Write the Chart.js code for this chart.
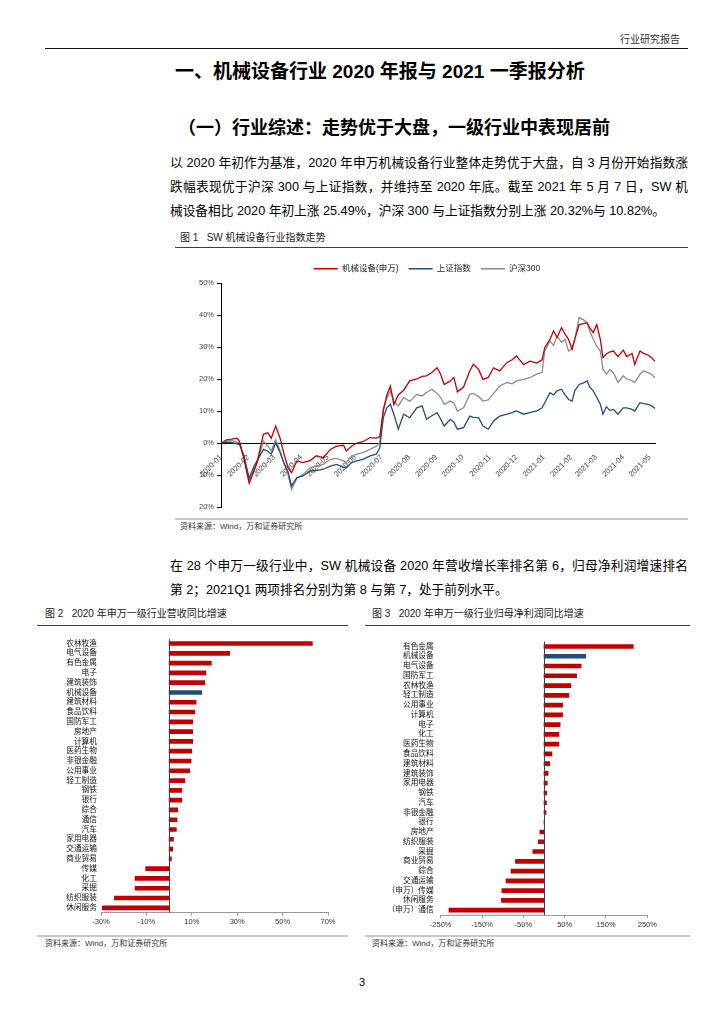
<!DOCTYPE html>
<html lang="zh-CN">
<head>
<meta charset="utf-8">
<title>机械设备行业 2020 年报与 2021 一季报分析</title>
<script src="https://cdn.jsdelivr.net/npm/chart.js@4.4.1/dist/chart.umd.min.js"></script>
<style>
  html, body { margin: 0; padding: 0; background: #fff; }
  body { width: 724px; height: 1024px; position: relative; overflow: hidden;
         font-family: "Liberation Sans", "Noto Sans CJK SC", sans-serif; color: #000; }
  .abs { position: absolute; white-space: nowrap; line-height: 1; }
  .jl { position: absolute; line-height: 1; text-align: justify; text-align-last: justify; }
  .rule { position: absolute; height: 0; border-top: 1px solid #404040; }
  .rule.light { border-top: 2px solid #c8c8c8; }
  .cap { font-size: 10px; color: #222; }
  .src { font-size: 8px; color: #333; }
  canvas { position: absolute; }
</style>
</head>
<body>

<div class="abs" style="right:44px; top:35px; font-size:10px; color:#333;">行业研究报告</div>
<div class="rule" style="left:45px; top:48px; width:643px; border-top:1.5px solid #111;"></div>

<div class="abs" style="left:175px; top:62px; font-size:19px; font-weight:bold;">一、机械设备行业 2020 年报与 2021 一季报分析</div>
<div class="abs" style="left:178px; top:119px; font-size:18px; font-weight:bold;">（一）行业综述：走势优于大盘，一级行业中表现居前</div>

<div class="jl" style="left:170px; top:157px; width:518px; font-size:12.7px;">以 2020 年初作为基准，2020 年申万机械设备行业整体走势优于大盘，自 3 月份开始指数涨</div>
<div class="jl" style="left:170px; top:181px; width:518px; font-size:12.7px;">跌幅表现优于沪深 300 与上证指数，并维持至 2020 年底。截至 2021 年 5 月 7 日，SW 机</div>
<div class="abs" style="left:170px; top:205px; font-size:12.7px;">械设备相比 2020 年初上涨 25.49%，沪深 300 与上证指数分别上涨 20.32%与 10.82%。</div>

<div class="abs cap" style="left:180px; top:233px;">图 1&nbsp;&nbsp;&nbsp;SW 机械设备行业指数走势</div>
<div class="rule" style="left:175px; top:247px; width:513px;"></div>
<canvas id="indexChart" width="520" height="266" style="left:170px; top:250px;"></canvas>
<div class="rule light" style="left:175px; top:518px; width:513px;"></div>
<div class="abs src" style="left:180px; top:523px;">资料来源：Wind，万和证券研究所</div>

<div class="jl" style="left:170px; top:560px; width:518px; font-size:12.7px;">在 28 个申万一级行业中，SW 机械设备 2020 年营收增长率排名第 6，归母净利润增速排名</div>
<div class="abs" style="left:170px; top:584px; font-size:12.7px;">第 2；2021Q1 两项排名分别为第 8 与第 7，处于前列水平。</div>

<div class="abs cap" style="left:45px; top:609px;">图 2&nbsp;&nbsp;&nbsp;2020 年申万一级行业营收同比增速</div>
<div class="rule" style="left:37px; top:625px; width:311px;"></div>
<canvas id="revChart" width="311" height="300" style="left:37px; top:630px;"></canvas>
<div class="rule light" style="left:37px; top:935px; width:311px;"></div>
<div class="abs src" style="left:45px; top:940px;">资料来源：Wind，万和证券研究所</div>

<div class="abs cap" style="left:372px; top:609px;">图 3&nbsp;&nbsp;&nbsp;2020 年申万一级行业归母净利润同比增速</div>
<div class="rule" style="left:365px; top:625px; width:325px;"></div>
<canvas id="profitChart" width="325" height="300" style="left:365px; top:630px;"></canvas>
<div class="rule light" style="left:365px; top:935px; width:325px;"></div>
<div class="abs src" style="left:372px; top:940px;">资料来源：Wind，万和证券研究所</div>

<div class="abs" style="left:359px; top:977px; font-size:11px;">3</div>

<script>
// 图1：自 2020-01-01 起的自然日序号及对应涨跌幅(%)
const lineDays = [1, 6, 12, 18, 21, 26, 32, 37, 41, 48,
  53, 57, 62, 67, 71, 76, 80, 86, 93, 101,
  108, 116, 124, 131, 139, 142, 148, 154, 161, 169,
  176, 180, 184, 188, 192, 196, 201, 207, 214, 222,
  228, 233, 239, 245, 249, 253, 260, 264, 268, 275,
  282, 286, 292, 297, 303, 309, 316, 324, 330, 335,
  343, 350, 358, 364, 367, 373, 377, 381, 386, 390,
  394, 398, 401, 406, 411, 415, 418, 422, 426, 430,
  433, 437, 441, 445, 450, 456, 460, 466, 469, 475,
  479, 484, 488, 492];
const machinery = [0, 1.0, 1.2, 1.5, 0.5, -5, -12.6, -9, -6, 2.7,
  3.2, 1.5, 5.3, 1.5, -3, -7.7, -9.3, -5.6, -6.1, -5.5,
  -4, -4.6, -2, -1, -0.7, -2.5, -1, 0, 0.4, 1.7,
  1.5, 2, 10, 15, 17.8, 12, 15, 16.5, 19.4, 20,
  20.8, 21, 22, 23.5, 21.5, 18.3, 19.4, 20.5, 16, 17.5,
  22.5, 24.6, 23, 19.9, 20.5, 23.5, 22.5, 25.1, 26, 27.2,
  24.5, 25.6, 25, 26, 29.8, 32.4, 35, 33, 36, 34,
  32.4, 29.3, 32.4, 37, 37.3, 37.6, 36, 34.5, 37, 32.4,
  26.7, 27.8, 28.5, 28.75, 27, 29, 27, 28, 24.6, 28.75,
  28, 27.5, 26.7, 25.49];
const shIndex = [0, 0.3, 0.2, -0.3, -0.5, -4, -11, -7.5, -5.5, -2,
  -2.5, -3.5, 0, -3, -6, -9, -13.4, -10.8, -10.3, -8.75,
  -8.6, -8.2, -7.2, -6.7, -7.6, -7.8, -6.1, -5.6, -5.1, -4,
  -3.5, -1.5, 7.9, 11, 12.1, 9, 4.3, 9, 7.9, 11,
  11.6, 7.4, 8.5, 9.5, 7.5, 5.3, 7.4, 6.5, 4.3, 4.8,
  8.4, 8.0, 7.9, 5.3, 4.3, 6.9, 8.4, 9, 9.5, 10,
  9, 9.5, 10, 11, 12.6, 15.7, 15, 16.3, 16.8, 15,
  13.6, 13.1, 16.3, 18.3, 18.8, 19.4, 17.5, 16.3, 14.2, 12.1,
  9, 11.3, 10.2, 10.5, 9, 11, 11, 10.5, 10, 12.6,
  12.3, 12.1, 11.6, 10.82];
const hs300 = [0, 0.5, 0.8, 0.3, 0, -4.5, -11.9, -8.5, -6, 0.6,
  -1, -2.5, 1.1, -2.5, -6, -10, -14.5, -11, -9.8, -7.7,
  -7.2, -6.7, -5.1, -4.8, -5.6, -6, -4.2, -3.5, -3, -2,
  -1, 0, 11, 14, 16.3, 13, 11.6, 14.2, 13, 15.2,
  14.7, 15.8, 16.8, 15.5, 14.2, 12.1, 13.1, 12.5, 10, 11,
  15.2, 15.5, 14.5, 13.1, 13.5, 15.5, 17.8, 18.9, 18.5, 19.4,
  19.9, 20.4, 21.5, 22, 28.75, 31.9, 30.5, 33.4, 31.5, 32.4,
  28.75, 29.5, 32.4, 39.2, 38.5, 37.6, 35, 32.4, 30.3, 28.75,
  23, 21.5, 23, 21.8, 18.9, 21, 20, 19.5, 18.9, 21.5,
  22.5, 22, 21.5, 20.32];
const monthDays = [0, 31, 60, 91, 121, 152, 182, 213, 244, 274, 305, 335, 366, 397, 425, 456, 486];
const monthLabels = ['2020-01', '2020-02', '2020-03', '2020-04', '2020-05', '2020-06', '2020-07', '2020-08',
  '2020-09', '2020-10', '2020-11', '2020-12', '2021-01', '2021-02', '2021-03', '2021-04', '2021-05'];

// 图2：营收同比增速(%)
const revCats = ['农林牧渔', '电气设备', '有色金属', '电子', '建筑装饰', '机械设备', '建筑材料', '食品饮料', '国防军工', '房地产',
  '计算机', '医药生物', '非银金融', '公用事业', '轻工制造', '钢铁', '银行', '综合', '通信', '汽车',
  '家用电器', '交通运输', '商业贸易', '传媒', '化工', '采掘', '纺织服装', '休闲服务'];
const revVals = [63.1, 26.7, 18.6, 16.2, 15.7, 14.4, 11.9, 11.3, 10.4, 10.4,
  10.4, 10.0, 9.7, 9.1, 6.9, 5.6, 5.6, 3.8, 3.5, 3.2,
  1.9, 1.6, 1.0, -10.3, -15.0, -15.0, -24.1, -29.4];
const revTicks = [-30, -10, 10, 30, 50, 70];

// 图3：归母净利润同比增速(%)
const npCats = ['有色金属', '机械设备', '电气设备', '国防军工', '农林牧渔', '轻工制造', '公用事业', '计算机', '电子', '化工',
  '医药生物', '食品饮料', '建筑材料', '建筑装饰', '家用电器', '钢铁', '汽车', '非银金融', '银行', '房地产',
  '纺织服装', '采掘', '商业贸易', '综合', '交通运输', '（申万）传媒', '休闲服务', '（申万）通信'];
const npVals = [216, 101, 90, 79, 65, 60, 45, 45, 39, 36,
  36, 19, 14, 10, 8, 6.5, 6, 5, 1.5, -10,
  -14, -27, -69, -80, -92, -102, -103, -230];
const npTicks = [-250, -150, -50, 50, 150, 250];

const RED = '#C00000';
const BLUE = '#1F4E79';
const GRAY = '#8C8C8C';
const FONT = '"Liberation Sans", "Noto Sans CJK SC", sans-serif';

Chart.defaults.font.family = FONT;
Chart.defaults.color = '#333';

const toPoints = (vals) => vals.map((v, i) => ({ x: lineDays[i], y: v }));

// --- 图1 指数走势 ---
new Chart(document.getElementById('indexChart'), {
  type: 'line',
  data: {
    datasets: [
      { label: '机械设备(申万)', data: toPoints(machinery), borderColor: RED, backgroundColor: RED, borderWidth: 1.3 },
      { label: '上证指数', data: toPoints(shIndex), borderColor: BLUE, backgroundColor: BLUE, borderWidth: 1.3 },
      { label: '沪深300', data: toPoints(hs300), borderColor: GRAY, backgroundColor: GRAY, borderWidth: 1.3 }
    ]
  },
  options: {
    responsive: false,
    animation: false,
    layout: { padding: { top: 1, right: 35, bottom: 9, left: 29 } },
    elements: { point: { radius: 0 }, line: { tension: 0 } },
    plugins: {
      tooltip: { enabled: false },
      legend: {
        position: 'top',
        labels: { usePointStyle: true, pointStyle: 'line', pointStyleWidth: 24, padding: 10,
                  font: { size: 8.5 }, color: '#222' }
      }
    },
    scales: {
      x: {
        type: 'linear', min: 0, max: 492, position: { y: 0 },
        afterBuildTicks: (axis) => { axis.ticks = monthDays.map(v => ({ value: v })); },
        ticks: { autoSkip: false, minRotation: 45, maxRotation: 45, padding: 2, font: { size: 7.5 }, color: '#404040',
                 callback: (v) => monthLabels[monthDays.indexOf(v)] },
        grid: { display: false },
        border: { display: true, color: '#000', width: 1 }
      },
      y: {
        min: -20, max: 50,
        ticks: { stepSize: 10, font: { size: 7.5 }, color: '#404040', padding: 3, callback: (v) => v + '%' },
        grid: { drawOnChartArea: false, tickLength: 4, color: '#000' },
        border: { display: true, color: '#000', width: 1 },
        // 固定轴宽，并把绘图区顶部留到图例下方 33px 处
        afterFit: (s) => { s.width = 22; s.paddingTop = 33; }
      }
    }
  }
});

// 零值竖线（类别轴位置）
const zeroLine = {
  id: 'zeroLine',
  afterDatasetsDraw(chart) {
    const { ctx, chartArea, scales } = chart;
    const x = Math.round(scales.x.getPixelForValue(0)) + 0.5;
    ctx.save();
    ctx.strokeStyle = '#404040';
    ctx.lineWidth = 1;
    ctx.beginPath();
    ctx.moveTo(x, chartArea.top);
    ctx.lineTo(x, chartArea.bottom);
    ctx.stroke();
    ctx.restore();
  }
};

function barChart(id, cats, vals, ticks, min, max, opts) {
  return new Chart(document.getElementById(id), {
    type: 'bar',
    data: {
      labels: cats,
      datasets: [{
        data: vals,
        backgroundColor: cats.map(c => c === '机械设备' ? BLUE : RED),
        barThickness: 4
      }]
    },
    options: {
      indexAxis: 'y',
      responsive: false,
      animation: false,
      layout: { padding: opts.padding },
      plugins: { legend: { display: false }, tooltip: { enabled: false } },
      scales: {
        x: {
          min: min, max: max,
          afterBuildTicks: (axis) => { axis.ticks = ticks.map(v => ({ value: v })); },
          ticks: { font: { size: 7.5 }, color: '#333', padding: 2, callback: (v) => v + '%' },
          grid: { drawOnChartArea: false, tickLength: 3, color: '#999' },
          border: { color: '#999' },
          afterFit: (s) => { s.height = opts.xHeight; }
        },
        y: {
          ticks: { autoSkip: false, font: { size: 7.7 }, color: '#111', padding: opts.labelPad },
          grid: { display: false, drawTicks: false },
          border: { display: false },
          afterFit: (s) => { s.width = opts.yWidth; }
        }
      }
    },
    plugins: [zeroLine]
  });
}

barChart('revChart', revCats, revVals, revTicks, -30, 70,
  { padding: { top: 5, right: 20, bottom: 0, left: 0 }, xHeight: 17.3, yWidth: 64, labelPad: 4 });
barChart('profitChart', npCats, npVals, npTicks, -250, 250,
  { padding: { top: 2.3, right: 42.7, bottom: 0, left: 0 }, xHeight: 15, yWidth: 75.7, labelPad: 7 });
</script>
</body>
</html>
